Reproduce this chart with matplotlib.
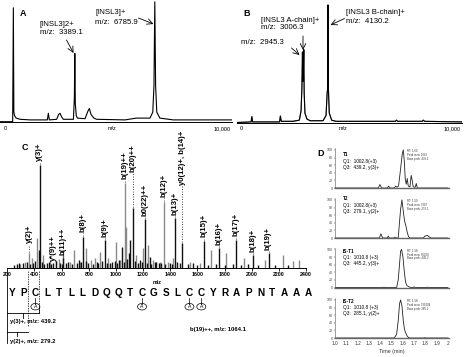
import matplotlib
matplotlib.use("Agg")
import matplotlib.pyplot as plt
from matplotlib.patches import Ellipse

plt.rcParams['font.family'] = ['Liberation Sans', 'DejaVu Sans']

W, H = 466, 357

# ---------------- Data ----------------
# Panel A: MALDI spectrum of intact INSL3 (m/z, relative intensity %)
a_mz = [212, 750, 779, 800, 830, 900, 1062, 1500, 2222, 2265, 2307, 2618, 2700, 2760, 2830, 2902,
        3330, 3370, 3389, 3410, 3450, 3500, 3822, 3950, 4006, 4080, 4200, 4317, 5520, 6000, 6582,
        6700, 6750, 6786, 6820, 6870, 7000, 7572, 10050]
a_int = [0, 0, 95, 8, 5, 3, 2, 1.5, 1.5, 7, 1.5, 2, 6, 7, 4, 2,
         2, 20, 57, 15, 5, 3, 2.5, 9, 11, 6, 3, 2, 1.5, 3, 3,
         8, 30, 100, 30, 8, 3, 1.5, 1.5]

# Panel B: reduced INSL3 chains
b_mz = [-94, 560, 595, 630, 1880, 1920, 1960, 2500, 2800, 2880, 2920, 2945, 2960, 2985, 3006, 3025,
        3060, 3150, 3300, 3900, 4040, 4090, 4110, 4130, 4150, 4190, 4300, 4500, 7250, 7307, 7360,
        8500, 8557, 8610, 10351]
b_int = [0, 0.5, 5, 0.5, 0.5, 5.5, 1, 1, 2, 10, 30, 60, 35, 40, 62, 25,
         8, 3, 1.5, 1.5, 6, 25, 28, 100, 28, 8, 2, 1, 1, 2, 1,
         1, 2, 1, 0.5]

# Panel C: MS/MS spectrum
c_black_mz = [250, 269, 285, 318, 345, 365, 391, 405, 433, 440, 452, 470, 489, 505, 525, 538, 560, 587,
              600, 612, 636, 650, 680, 710, 725, 745, 759, 780, 796, 830, 857, 870, 900, 918, 935, 955,
              970, 992, 1010, 1020, 1048, 1060, 1085, 1097, 1107, 1126, 1140, 1160, 1175, 1190, 1217,
              1230, 1249, 1260, 1285, 1298, 1320, 1335, 1360, 1396, 1410, 1438, 1450, 1470, 1489,
              1530, 1568, 1600, 1651, 1680, 1739, 1756, 1800, 1862, 1886, 1920, 1972, 2009, 2050,
              2124, 2170, 2270]
c_black_int = [3, 4, 5, 5, 6, 4, 5.5, 7, 17.7, 100, 6.5, 4, 5, 6, 4.5, 5.5, 7, 5.5,
               4, 9.7, 5, 6.5, 4, 5.5, 8, 6, 30.6, 7, 5.5, 4.5, 6.5, 5, 7, 27.4, 5, 5.5,
               6, 7.4, 5, 8, 21, 6, 9, 14.5, 27.4, 58, 7, 5, 8, 6, 47.7,
               5, 11, 4, 6, 6.5, 5, 5, 4, 5, 4, 49, 6, 5.5, 24,
               4, 5, 3.5, 26.8, 3, 4, 19.4, 3, 4, 27.4, 3, 4, 12.9, 3,
               14.5, 3, 3]
c_gray_mz = [293, 330, 362, 379, 421, 465, 514, 558, 582, 612, 661, 690, 734, 778, 813, 845, 881, 943,
             1004, 1033, 1065, 1077, 1151, 1200, 1237, 1274, 1323, 1352, 1384, 1421, 1543, 1617,
             1700, 1813, 1943, 2095, 2229, 2303, 2352]
c_gray_int = [4.2, 6.5, 14.5, 9.7, 29, 12.9, 8, 8, 8.7, 17.7, 6.5, 17.7, 6.5, 19.4, 8, 9.7, 16, 9.7,
              25.8, 8, 82, 39.7, 12.9, 19.4, 22.6, 8, 6.5, 64.5, 6.5, 9.7, 6.5, 4.8,
              17.7, 14.5, 9.7, 8, 12.9, 7.4, 8]
c_lab_text = ["y(2)+", "y(3)+", "y*(9)++", "b(11)++", "b(8)+", "b(9)+", "b(19)++", "b(20)++",
              "b0(22)++", "b(12)+", "b(13)+", "y0(12)+, b(14)+", "b(15)+", "b(16)+", "b(17)+",
              "b(18)+", "b(19)+"]
c_lab_mz = [362, 440, 538, 612, 759, 918, 1065, 1126, 1217, 1352, 1438, 1489, 1651, 1756, 1886, 2009, 2124]
c_lab_peak = [14.5, 100, 5.5, 9.7, 30.6, 27.4, 82, 58, 47.7, 64.5, 49, 24, 26.8, 19.4, 27.4, 12.9, 14.5]
c_lab_pos = [24, 104, 7, 13, 35.5, 30.6, 86, 93.5, 50.6, 69, 51.6, 80.6, 30, 22.6, 31.3, 16, 17.7]
c_ticks = list(range(200, 2401, 200))
sequence = list("YPCLTLLDQQTCGSLCCYRAPNTAAA")
alkylated = [2, 11, 15, 16]

# Panel D: MRM chromatograms (time min, relative intensity %)
t1_t = [1.0, 1.383, 1.398, 1.413, 1.463, 1.475, 1.487, 1.525, 1.537, 1.549, 1.563, 1.581, 1.596, 1.605,
        1.614, 1.622, 1.631, 1.640, 1.649, 1.664, 1.675, 1.684, 1.693, 1.711, 1.720, 1.729, 2.0]
t1_i = [0, 0, 9, 0, 0, 5, 0, 0, 5, 2, 5, 50, 90, 100,
        70, 25, 10, 25, 5, 3, 33, 20, 3, 2, 12, 0, 0]
t2_t = [1.0, 1.393, 1.407, 1.422, 1.463, 1.472, 1.481, 1.525, 1.531, 1.540, 1.560, 1.581, 1.593, 1.605,
        1.616, 1.628, 1.640, 1.652, 1.664, 1.782, 1.797, 1.817, 1.835, 1.850, 2.0]
t2_i = [0, 0, 11, 0, 0, 5, 0, 0, 2, 0, 0, 75, 100, 70,
        45, 32, 15, 3, 0, 0, 5, 7, 3, 0, 0]
is1_t = [1.0, 1.428, 1.434, 1.440, 1.546, 1.560, 1.572, 1.581, 1.590, 1.602, 1.613,
         1.625, 1.637, 1.655, 1.670, 1.693, 1.700, 1.708, 1.811, 1.818, 1.826, 2.0]
is1_i = [0, 0, 1, 0, 0, 20, 62, 95, 100, 80, 45,
         14, 5, 2, 0, 0, 2, 0, 0, 1, 0, 0]
is2_t = [1.0, 1.525, 1.546, 1.560, 1.572, 1.581, 1.593, 1.605, 1.616, 1.628, 1.640, 1.652, 1.664,
         1.790, 1.796, 1.802, 2.0]
is2_i = [0, 0, 10, 45, 90, 100, 85, 45, 22, 12, 5, 1, 0,
         0, 1, 0, 0]
d_traces = [(t1_t, t1_i), (t2_t, t2_i), (is1_t, is1_i), (is2_t, is2_i)]
d_names = ["T1", "T2", "IS-T1", "IS-T2"]
d_q1 = ["Q1:  1002.8(+3)", "Q1:  1002.8(+3)", "Q1:  1010.8 (+3)", "Q1:  1010.8 (+3)"]
d_q3 = ["Q3:  439.2, y(3)+", "Q3:  279.1, y(2)+", "Q3:  445.2, y(3)+", "Q3:  285.1, y(2)+"]
d_rt = ["RT: 1.60", "RT: 1.59", "RT: 1.58", "RT: 1.58"]
d_area = ["Peak area: 1662", "Peak area: 7907", "Peak area: 56000", "Peak area: 330004"]
d_base = ["Base peak: 439.2", "Base peak: 279.1", "Base peak: 445.2", "Base peak: 285.1"]
d_xticks = [1.0, 1.1, 1.2, 1.3, 1.4, 1.5, 1.6, 1.7, 1.8, 1.9, 2.0]
d_xticklabels = ["1.0", "1.1", "1.2", "1.3", "1.4", "1.5", "1.6", "1.7", "1.8", "1.9", "2"]
d_yticks = [0, 20, 40, 60, 80, 100]

# ---------------- Figure ----------------
fig = plt.figure(figsize=(W / 100, H / 100), dpi=100)


def ax_px(x0, y0, x1, y1, **kw):
    return fig.add_axes([x0 / W, 1 - y1 / H, (x1 - x0) / W, (y1 - y0) / H], **kw)


def strip(ax):
    for s in ['top', 'right', 'left']:
        ax.spines[s].set_visible(False)
    ax.set_yticks([])
    ax.set_xticks([])
    ax.patch.set_alpha(0)


# Panel A
axA = ax_px(0, 0, 232, 121.7)
axA.plot(a_mz, a_int, color='black', lw=0.8)
axA.set_xlim(212, 10064)
axA.set_ylim(0, 101.5)
strip(axA)
axA.spines['bottom'].set_linewidth(0.7)

# Panel B
axB = ax_px(237, 2, 462, 122.5)
axB.plot(b_mz, b_int, color='black', lw=0.8)
axB.plot(b_mz, b_int, color='black', lw=0.8, alpha=0.5)
axB.set_xlim(-94, 10351)
axB.set_ylim(0, 102.5)
strip(axB)
axB.spines['bottom'].set_linewidth(0.7)

# Panel C
axC = ax_px(7.3, 140, 306, 268.3)
axC.vlines(c_gray_mz, 0, c_gray_int, colors='#8a8a8a', lw=1.0)
axC.vlines(c_black_mz, 0, c_black_int, colors='#111111', lw=1.0)
for txt, mz, pk, pos in zip(c_lab_text, c_lab_mz, c_lab_peak, c_lab_pos):
    if pos - pk > 2:
        axC.vlines([mz], pk + 1, pos - 1, colors='black', lw=0.6, linestyles=(0, (1, 2)))
    axC.text(mz, pos, txt, rotation=90, ha='center', va='bottom', fontsize=5.6, fontweight='bold')
axC.set_xlim(200, 2400)
axC.set_ylim(0, 124)
for s in ['top', 'right', 'left']:
    axC.spines[s].set_visible(False)
axC.patch.set_alpha(0)
axC.set_yticks([])
axC.set_xticks(c_ticks)
axC.set_xticklabels([str(v) for v in c_ticks], fontsize=3.8, fontweight='bold')
axC.tick_params(axis='x', length=2, width=0.6, pad=1)
axC.spines['bottom'].set_linewidth(0.7)
axC.set_xlabel('m/z', fontsize=3.8, fontweight='bold', labelpad=1.5)

# Panel D
d_base_y = [188, 238, 287.5, 338]
for k, (tr, yb) in enumerate(zip(d_traces, d_base_y)):
    ax = ax_px(335, yb - 40, 449, yb)
    ax.plot(tr[0], tr[1], color='#222222', lw=0.6)
    ax.set_xlim(1.0, 2.01)
    ax.set_ylim(0, 105)
    ax.spines['top'].set_visible(False)
    ax.spines['right'].set_visible(False)
    ax.spines['left'].set_linewidth(0.4)
    ax.spines['left'].set_color('#555555')
    ax.spines['bottom'].set_linewidth(1.0)
    ax.spines['bottom'].set_color('#666666')
    ax.patch.set_alpha(0)
    ax.set_yticks(d_yticks)
    ax.set_yticklabels([str(v) for v in d_yticks], fontsize=2.6, color='#444444')
    ax.tick_params(axis='y', length=1, width=0.3, pad=0.5)
    ax.set_xticks(d_xticks)
    ax.set_xticks([1.0 + 0.05 * j for j in range(21)], minor=True)
    ax.tick_params(axis='x', which='both', length=1, width=0.3, pad=1, colors='#444444')
    if k == 3:
        ax.set_xticklabels(d_xticklabels, fontsize=3.4, color='#333333')
        ax.set_xlabel('Time (min)', fontsize=3.8, labelpad=2, color='#333333')
    else:
        ax.set_xticklabels([])

# ---------------- Overlay annotations (pixel coordinates) ----------------
ov = fig.add_axes([0, 0, 1, 1], zorder=10)
ov.set_xlim(0, W)
ov.set_ylim(H, 0)
ov.axis('off')
ov.patch.set_alpha(0)

# A labels
ov.text(20, 14, 'A', fontsize=6.5, fontweight='bold', va='center')
ov.text(40, 24, '[INSL3]2+', fontsize=5.6, va='center')
ov.text(40, 33, 'm/z:  3389.1', fontsize=5.6, va='center')
ov.annotate('', xy=(73.5, 53), xytext=(66.5, 40),
            arrowprops=dict(arrowstyle='->', lw=0.6, color='black', shrinkA=0, shrinkB=0))
ov.text(95, 12, '[INSL3]+', fontsize=5.6, va='center')
ov.text(95, 22, 'm/z:  6785.9', fontsize=5.6, va='center')
ov.annotate('', xy=(153.5, 24), xytext=(138.5, 18),
            arrowprops=dict(arrowstyle='->', lw=0.6, color='black', shrinkA=0, shrinkB=0))
ov.text(5, 128.5, '0', fontsize=4, ha='center', va='center')
ov.text(112, 128.5, 'm/z', fontsize=4, ha='center', va='center')
ov.text(222, 128.5, '10,000', fontsize=4, ha='center', va='center')

# B labels
ov.text(243, 14, 'B', fontsize=6.5, fontweight='bold', va='center')
ov.text(261, 20, '[INSL3 A-chain]+', fontsize=5.6, va='center')
ov.text(261, 27.5, 'm/z:  3006.3', fontsize=5.6, va='center')
ov.annotate('', xy=(303, 50), xytext=(303, 36),
            arrowprops=dict(arrowstyle='->', lw=0.6, color='black', shrinkA=0, shrinkB=0))
ov.text(241, 43, 'm/z:  2945.3', fontsize=5.6, va='center')
ov.annotate('', xy=(299.5, 55), xytext=(291.5, 48),
            arrowprops=dict(arrowstyle='->', lw=0.6, color='black', shrinkA=0, shrinkB=0))
ov.text(346, 13, '[INSL3 B-chain]+', fontsize=5.6, va='center')
ov.text(346, 21.5, 'm/z:  4130.2', fontsize=5.6, va='center')
ov.annotate('', xy=(330.5, 25), xytext=(344.5, 18.5),
            arrowprops=dict(arrowstyle='->', lw=0.6, color='black', shrinkA=0, shrinkB=0))
ov.text(241.7, 128.5, '0', fontsize=4, ha='center', va='center')
ov.text(343.3, 128.5, 'm/z', fontsize=4, ha='center', va='center')
ov.text(452, 128.5, '10,000', fontsize=4, ha='center', va='center')

# C labels
ov.text(22, 147, 'C', fontsize=6.5, fontweight='bold', va='center')
seq_x0, seq_dx, seq_y = 11.7, 11.85, 293
for i, aa in enumerate(sequence):
    ov.text(seq_x0 + i * seq_dx, seq_y, aa, fontsize=7.2, fontweight='bold', ha='center', va='center')
for i in alkylated:
    cx = seq_x0 + i * seq_dx
    ov.plot([cx, cx], [297.5, 303.5], color='black', lw=0.5)
    ov.add_patch(Ellipse((cx, 306.7), 9, 6.5, fill=False, lw=0.5, ec='black'))
    ov.text(cx, 306.9, 'A', fontsize=3.6, ha='center', va='center')
# brackets for y ions
ov.plot([7.3, 7.3], [271, 343], color='black', lw=0.6)
ov.plot([28.3, 28.3], [271, 327], color='black', lw=0.5, ls=(0, (2, 1.5)))
ov.plot([39.3, 39.3], [271, 307], color='black', lw=0.5, ls=(0, (2, 1.5)))
ov.plot([7.3, 39.3], [313.3, 313.3], color='black', lw=0.6)
ov.plot([39.3, 39.3], [307, 313.3], color='black', lw=0.6)
ov.plot([23.3, 23.3], [313.3, 318], color='black', lw=0.6)
ov.text(10, 322, 'y(3)+, m/z: 439.2', fontsize=4.2, fontweight='bold', va='center')
ov.plot([7.3, 28.3], [331.7, 331.7], color='black', lw=0.6)
ov.plot([17.3, 17.3], [331.7, 336], color='black', lw=0.6)
ov.text(10, 341, 'y(2)+, m/z: 279.2', fontsize=4.2, fontweight='bold', va='center')
ov.text(218, 329, 'b(19)++, m/z: 1064.1', fontsize=4.2, fontweight='bold', ha='center', va='center')

# D labels
ov.text(317, 153, 'D', fontsize=6.5, fontweight='bold', va='center')
d_name_y = [155, 199, 251.5, 301.7]
for k in range(4):
    y0 = d_name_y[k]
    ov.text(343, y0, d_names[k], fontsize=3.4, fontweight='bold', va='center')
    ov.text(343, y0 + 6, d_q1[k], fontsize=3.4, va='center')
    ov.text(343, y0 + 12, d_q3[k], fontsize=3.4, va='center')
    yr = d_base_y[k] - 38
    ov.text(407, yr + 1, d_rt[k], fontsize=2.0, va='center', color='#333333')
    ov.text(407, yr + 5, d_area[k], fontsize=2.0, va='center', color='#333333')
    ov.text(407, yr + 9, d_base[k], fontsize=2.0, va='center', color='#333333')

fig.savefig('out.png', dpi=100)
